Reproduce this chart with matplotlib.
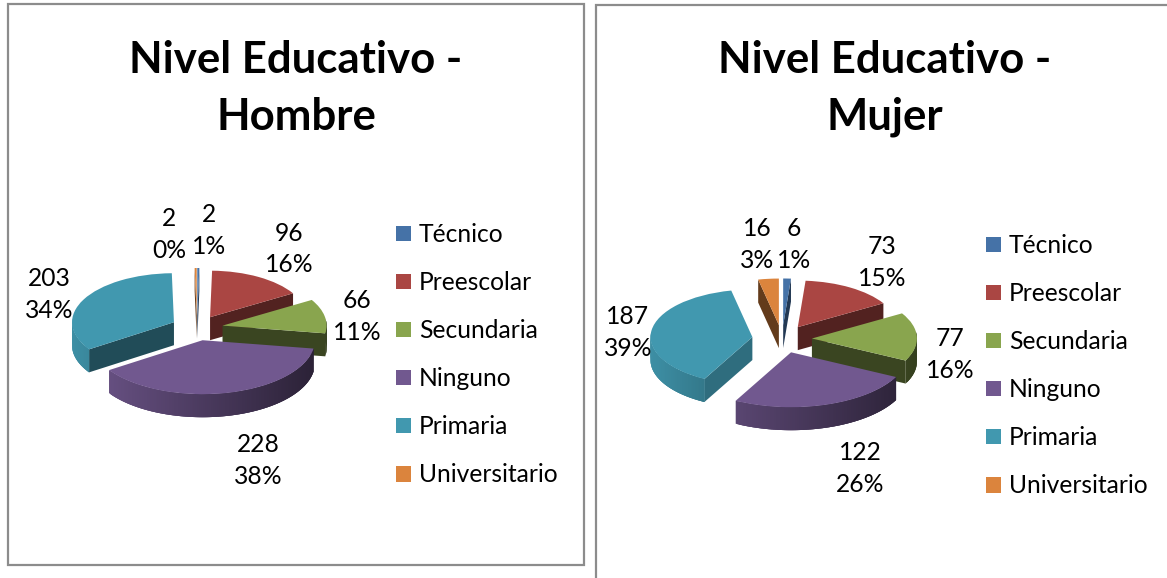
import math
import matplotlib
matplotlib.use("Agg")
import matplotlib.pyplot as plt
from matplotlib.patches import Polygon, Rectangle
from matplotlib.colors import to_rgb

W, H = 1167, 578
plt.rcParams['font.family'] = ['Lato', 'DejaVu Sans']

categories = ['Técnico', 'Preescolar', 'Secundaria', 'Ninguno', 'Primaria', 'Universitario']
colors = ['#4572a7', '#aa4643', '#89a54e', '#71588f', '#4198af', '#db843d']

hombre = [2, 96, 66, 228, 203, 2]
hombre_pct = [1, 16, 11, 38, 34, 0]
mujer = [6, 73, 77, 122, 187, 16]
mujer_pct = [1, 15, 16, 26, 39, 3]


def shade(col, f):
    return tuple(c * f for c in to_rgb(col))


def px(x, y):
    return x / W, 1 - y / H


def draw_pie(values, pcts, title, cx, cy, a, b, expl, sizes, label_pos, legend_xy, title_x, face_f):
    lim = 2.0
    ax = fig.add_axes([(cx - lim * a) / W, 1 - (cy + lim * b) / H, 2 * lim * a / W, 2 * lim * b / H])
    wedges, _ = ax.pie(values, colors=colors, startangle=90, counterclock=False,
                       explode=[expl] * len(values), wedgeprops={'linewidth': 0})
    ax.set_aspect('auto')
    ax.set_xlim(-lim, lim)
    ax.set_ylim(-lim, lim)
    ax.axis('off')
    depth = 23.0 / b

    # front slices look bigger in the original, so radius differs per slice
    for w, s in zip(wedges, sizes):
        w.set_radius(s)

    # sides, back slices first
    order = sorted(range(len(wedges)), key=lambda i: -wedges[i].center[1])
    z = 1
    for i in order:
        w = wedges[i]
        col = colors[i]
        x0, y0 = w.center
        r = w.r
        for th, vis in ((w.theta1, math.cos(math.radians(w.theta1)) > 0),
                        (w.theta2, math.cos(math.radians(w.theta2)) < 0)):
            if not vis:
                continue
            ex = x0 + r * math.cos(math.radians(th))
            ey = y0 + r * math.sin(math.radians(th))
            ax.add_patch(Polygon([(x0, y0), (ex, ey), (ex, ey - depth), (x0, y0 - depth)],
                                 closed=True, fc=shade(col, face_f[i]), lw=0, zorder=z))
        # outer rim, overlapping strips so no seams show
        t = w.theta1
        while t < w.theta2:
            t2 = min(t + 3, w.theta2)
            r1, r2 = math.radians(t), math.radians(t2)
            if math.sin(r1) < 0.1:
                f = 0.66 - 0.28 * math.cos(r1)
                ax.add_patch(Polygon([(x0 + r * math.cos(r1), y0 + r * math.sin(r1)),
                                      (x0 + r * math.cos(r2), y0 + r * math.sin(r2)),
                                      (x0 + r * math.cos(r2), y0 + r * math.sin(r2) - depth),
                                      (x0 + r * math.cos(r1), y0 + r * math.sin(r1) - depth)],
                                     closed=True, fc=shade(col, f), lw=0, zorder=z + 1))
            t += 1
        z += 2
    for w in wedges:
        w.set_zorder(50)

    # value labels
    for v, p, (lx, ly) in zip(values, pcts, label_pos):
        fx, fy = px(lx, ly - 16)
        fig.text(fx, fy, str(v), ha='center', va='center', fontsize=17.7, color='black')
        fx, fy = px(lx, ly + 16)
        fig.text(fx, fy, f'{p}%', ha='center', va='center', fontsize=17.7, color='black')

    # title lines
    for line, ty in zip(title, (60, 117)):
        fx, fy = px(title_x, ty)
        fig.text(fx, fy, line, ha='center', va='center', fontsize=31.5, fontweight='bold', color='black')

    fig.legend(wedges, categories, loc='upper left', bbox_to_anchor=px(*legend_xy), frameon=False,
               fontsize=17.7, labelspacing=1.02, handlelength=0.6, handleheight=0.6,
               handletextpad=0.34, borderpad=0, borderaxespad=0)


fig = plt.figure(figsize=(W / 100, H / 100), dpi=100, facecolor='white')

fig.add_artist(Rectangle(px(8, 565), 576 / W, 561 / H, transform=fig.transFigure,
                         fc='none', ec='#8c8c8c', lw=1.6))
fig.add_artist(Rectangle(px(596, 600), 600 / W, 595 / H, transform=fig.transFigure,
                         fc='none', ec='#8c8c8c', lw=1.6))

draw_pie(hombre, hombre_pct, ['Nivel Educativo -', 'Hombre'], 197, 328, 104, 50, 0.25,
         [0.95, 0.93, 1.0, 1.08, 0.98, 0.95],
         [(209, 230), (289, 249), (357, 316), (258, 460), (49, 294), (169, 234)],
         (396, 223), 296, [0.5, 0.48, 0.42, 0.45, 0.5, 0.45])
draw_pie(mujer, mujer_pct, ['Nivel Educativo -', 'Mujer'], 782, 339, 105, 49, 0.285,
         [0.95, 0.95, 1.0, 1.12, 0.97, 0.95],
         [(794, 245), (882, 262), (950, 354), (860, 469), (628, 332), (757, 245)],
         (986, 234), 885, [0.5, 0.48, 0.42, 0.45, 0.72, 0.45])

fig.savefig('out.png', dpi=100)
